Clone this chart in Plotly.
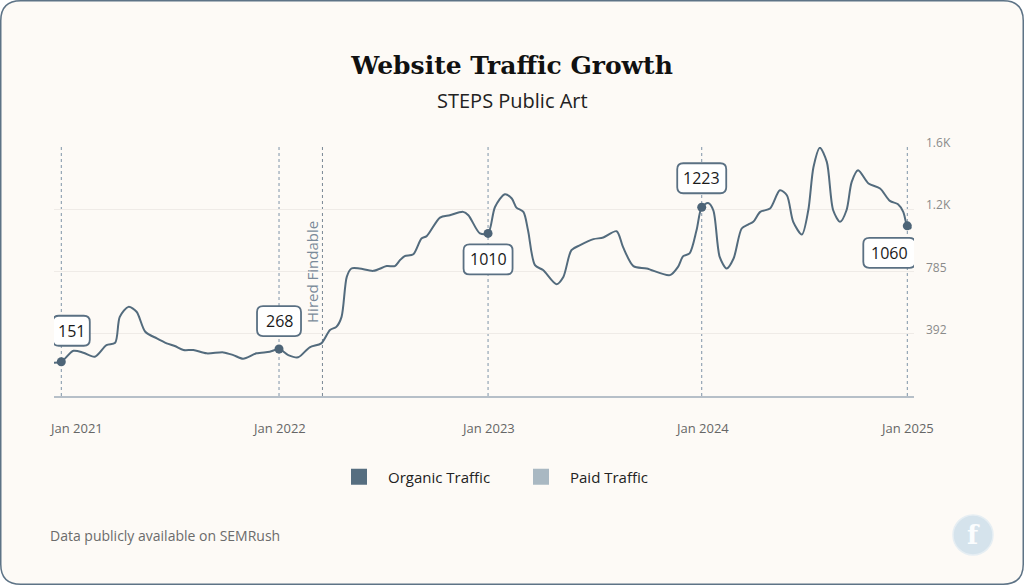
import plotly.graph_objects as go

# ---------------- data ----------------
dates = [
    "2020-12-19", "2021-01-01", "2021-01-22", "2021-02-08", "2021-02-28", "2021-03-20",
    "2021-04-04", "2021-04-12", "2021-04-27", "2021-05-11", "2021-05-26", "2021-06-15",
    "2021-07-02", "2021-07-16", "2021-07-31", "2021-08-17", "2021-09-09", "2021-10-08",
    "2021-10-25", "2021-11-11", "2021-12-04", "2021-12-27", "2022-01-12", "2022-01-28",
    "2022-02-14", "2022-03-06", "2022-03-26", "2022-04-10", "2022-04-21", "2022-04-30",
    "2022-05-09", "2022-05-17", "2022-05-31", "2022-06-24", "2022-07-17", "2022-07-31",
    "2022-08-09", "2022-08-17", "2022-09-01", "2022-09-15", "2022-09-24", "2022-10-17",
    "2022-11-03", "2022-11-26", "2022-12-05", "2022-12-25", "2023-01-08", "2023-01-20",
    "2023-02-06", "2023-02-18", "2023-02-26", "2023-03-10", "2023-03-18", "2023-03-30",
    "2023-04-13", "2023-05-06", "2023-05-18", "2023-06-01", "2023-06-16", "2023-07-09",
    "2023-07-26", "2023-08-18", "2023-08-29", "2023-09-16", "2023-10-09", "2023-11-18",
    "2023-12-02", "2023-12-11", "2023-12-22", "2024-01-03", "2024-01-12", "2024-01-23",
    "2024-02-01", "2024-02-12", "2024-02-24", "2024-03-07", "2024-03-21", "2024-04-01",
    "2024-04-10", "2024-04-22", "2024-05-09", "2024-05-26", "2024-06-07", "2024-06-18",
    "2024-07-03", "2024-07-14", "2024-07-23", "2024-08-03", "2024-08-15", "2024-08-26",
    "2024-09-07", "2024-09-18", "2024-09-27", "2024-10-08", "2024-10-26", "2024-11-15",
    "2024-12-02", "2024-12-16", "2024-12-25", "2025-01-01", "2025-01-08",
]
organic = [
    210, 216, 285, 273, 248, 321,
    336, 499, 562, 531, 405, 363,
    332, 315, 290, 290, 269, 275,
    258, 235, 269, 279, 296, 258,
    244, 307, 332, 416, 436, 499,
    751, 804, 804, 789, 819, 819,
    857, 882, 894, 993, 1008, 1125,
    1140, 1161, 1140, 1025, 1025, 1192,
    1272, 1245, 1188, 1161, 1045, 825,
    794, 705, 751, 920, 951, 989,
    999, 1039, 940, 819, 804, 762,
    814, 882, 899, 1045, 1190, 1217,
    1171, 877, 804, 867, 1056, 1081,
    1098, 1161, 1182, 1297, 1266, 1098,
    1018, 1171, 1444, 1566, 1476, 1171,
    1098, 1171, 1350, 1423, 1340, 1308,
    1230, 1209, 1161, 1073, 1056,
]

callout_dates = ["2021-01-01", "2022-01-12", "2023-01-08", "2024-01-12", "2025-01-01"]
callout_labels = ["151", "268", "1010", "1223", "1060"]
year_labels = ["Jan 2021", "Jan 2022", "Jan 2023", "Jan 2024", "Jan 2025"]

hired_date = "2022-03-28"
hired_label = "Hired Findable"

y_tickvals = [392.5, 785, 1177.5, 1570]
y_ticktext = ["392", "785", "1.2K", "1.6K"]

series_names = ["Organic Traffic", "Paid Traffic"]

title_text = "Website Traffic Growth"
subtitle_text = "STEPS Public Art"
footer_text = "Data publicly available on SEMRush"

# ---------------- style / geometry ----------------
W, H = 1024, 585
L, R, T, B = 54, 110, 147, 189
PW, PH = W - L - R, H - T - B
CREAM = "#fdfaf6"
SLATE = "#536b7d"
FONT = "Open Sans"

def px2x(px):
    return (px - L) / PW

def py2y(py):
    return (H - B - py) / PH

def rounded_rect_paper(x0, y0, x1, y1, r):
    rx, ry = r / PW, r / PH
    X0, X1 = px2x(x0), px2x(x1)
    Yt, Yb = py2y(y0), py2y(y1)
    return (f"M {X0+rx},{Yt} L {X1-rx},{Yt} Q {X1},{Yt} {X1},{Yt-ry} "
            f"L {X1},{Yb+ry} Q {X1},{Yb} {X1-rx},{Yb} "
            f"L {X0+rx},{Yb} Q {X0},{Yb} {X0},{Yb+ry} "
            f"L {X0},{Yt-ry} Q {X0},{Yt} {X0+rx},{Yt} Z")

def rounded_rect_pixel(cx, cy, w, h, r):
    # pixel offsets relative to anchor, y positive upward
    x0, x1 = cx - w / 2, cx + w / 2
    y0, y1 = cy - h / 2, cy + h / 2
    return (f"M {x0+r},{y1} L {x1-r},{y1} Q {x1},{y1} {x1},{y1-r} "
            f"L {x1},{y0+r} Q {x1},{y0} {x1-r},{y0} "
            f"L {x0+r},{y0} Q {x0},{y0} {x0},{y0+r} "
            f"L {x0},{y1-r} Q {x0},{y1} {x0+r},{y1} Z")

# callout offsets (screen px, dx right, dy up) and box widths
callout_offsets = [(10, 31), (0, 28), (0, -26), (0, 29), (-18, -27)]
callout_widths = [37, 44, 49, 49, 52]
callout_height = 30

callout_values = [organic[dates.index(d)] for d in callout_dates]

fig = go.Figure()

fig.add_trace(go.Scatter(
    x=dates, y=organic, mode="lines", name=series_names[0],
    line=dict(color=SLATE, width=2, shape="spline", smoothing=0.8),
    showlegend=False, hoverinfo="skip",
))
fig.add_trace(go.Scatter(
    x=callout_dates, y=callout_values, mode="markers",
    marker=dict(color="#4d6477", size=9), showlegend=False, hoverinfo="skip",
))
# legend entries
fig.add_trace(go.Scatter(
    x=[None], y=[None], mode="markers", name=series_names[0],
    marker=dict(symbol="square", size=18, color="#566e80"),
))
fig.add_trace(go.Scatter(
    x=[None], y=[None], mode="markers", name=series_names[1],
    marker=dict(symbol="square", size=18, color="#a9b8c2"),
))

shapes = []
annotations = []

# card
shapes.append(dict(type="path", xref="paper", yref="paper", layer="below",
                   path=rounded_rect_paper(0.75, 0.75, W - 0.75, H - 0.75, 20),
                   fillcolor=CREAM, line=dict(color="#5d7386", width=1.5)))

# vertical dashed lines
for d in callout_dates:
    shapes.append(dict(type="line", xref="x", yref="paper", x0=d, x1=d, y0=0, y1=1,
                       line=dict(color="#7f94a8", width=1, dash="3px,3px"), layer="below"))
shapes.append(dict(type="line", xref="x", yref="paper", x0=hired_date, x1=hired_date, y0=0, y1=1,
                   line=dict(color="#7a8794", width=1, dash="3px,3px"), layer="below"))

# callout boxes + texts
for d, v, lab, (dx, dy), w in zip(callout_dates, callout_values, callout_labels,
                                   callout_offsets, callout_widths):
    shapes.append(dict(type="path", xref="x", yref="y", xsizemode="pixel", ysizemode="pixel",
                       xanchor=d, yanchor=v,
                       path=rounded_rect_pixel(dx, dy, w, callout_height, 6),
                       fillcolor="white", line=dict(color="#5a7083", width=1.8), layer="above"))
    annotations.append(dict(x=d, y=v, xref="x", yref="y", text=lab, showarrow=False,
                            xshift=dx, yshift=dy, font=dict(family=FONT, size=16, color="#1a1a1a")))

# x-axis labels
x_label_shifts = [15, 0, 0, 0, 0]
for d, lab, s in zip(callout_dates, year_labels, x_label_shifts):
    annotations.append(dict(x=d, y=0, xref="x", yref="paper", text=lab, showarrow=False,
                            xshift=s, yshift=-32, yanchor="middle",
                            font=dict(family=FONT, size=13, color="#666666")))

# Hired Findable
annotations.append(dict(x=hired_date, y=0.5, xref="x", yref="paper", text=hired_label,
                        showarrow=False, textangle=-90, xshift=-11,
                        font=dict(family=FONT, size=15, color="#7a8a99")))

# subtitle
annotations.append(dict(x=px2x(512), y=py2y(101), xref="paper", yref="paper", text=subtitle_text,
                        showarrow=False, xanchor="center", yanchor="middle",
                        font=dict(family=FONT, size=20, color="#222222")))

# footer
annotations.append(dict(x=px2x(48), y=py2y(535), xref="paper", yref="paper", text=footer_text,
                        showarrow=False, xanchor="left", yanchor="middle",
                        font=dict(family=FONT, size=14, color="#6b6b6b")))

# logo
shapes.append(dict(type="circle", xref="paper", yref="paper",
                   x0=px2x(953), x1=px2x(993), y0=py2y(555), y1=py2y(515),
                   fillcolor="#d5e3ec", line=dict(color="#e6eef3", width=1.5), layer="above"))
annotations.append(dict(x=px2x(973), y=py2y(535), xref="paper", yref="paper", text="<b>f</b>",
                        showarrow=False, xanchor="center", yanchor="middle",
                        font=dict(family="DejaVu Serif", size=26, color="#fbfdfe")))

fig.update_layout(
    width=W, height=H,
    margin=dict(l=L, r=R, t=T, b=B, autoexpand=False),
    paper_bgcolor="white", plot_bgcolor=CREAM,
    title=dict(text=f"<b>{title_text}</b>", x=512 / W, xref="container", xanchor="center",
               y=1 - 65 / H, yref="container", yanchor="middle",
               font=dict(family="DejaVu Serif", size=25, color="#111111")),
    xaxis=dict(type="date", range=["2020-12-19 09:36", "2025-01-12 13:40"],
               showgrid=False, showticklabels=False, ticks="", zeroline=False,
               showline=True, linecolor="#b6bfc8", linewidth=2),
    yaxis=dict(range=[0, 1570], side="right", tickvals=y_tickvals, ticktext=y_ticktext,
               showgrid=True, gridcolor="#efebe7", gridwidth=1, zeroline=False,
               ticks="", ticklabelstandoff=11, ticklabelshift=-4, showline=False,
               tickfont=dict(family=FONT, size=12, color="#8a8a8a")),
    legend=dict(orientation="h", x=px2x(330), xanchor="left", y=py2y(477), yanchor="middle",
                font=dict(family=FONT, size=15, color="#222222"), entrywidth=119,
                itemwidth=48, bgcolor="rgba(0,0,0,0)"),
    shapes=shapes, annotations=annotations,
    hovermode=False,
)

fig.write_html("out.html", config={"displayModeBar": False},
               post_script="document.body.style.margin='0';document.body.style.padding='0';")
